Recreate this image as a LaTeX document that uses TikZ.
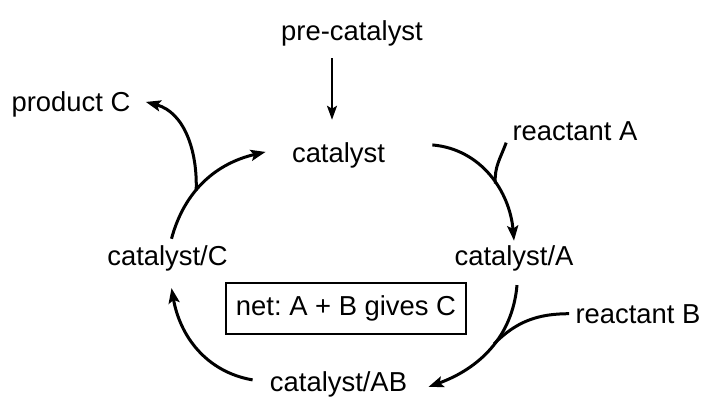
\documentclass[tikz,border=0pt]{standalone}
\usepackage{fontspec}
\setmainfont{Liberation Sans}
\usetikzlibrary{arrows.meta}

\begin{document}
\begin{tikzpicture}[
  x=0.5pt, y=0.5pt, font=\fontsize{13.7pt}{16pt}\selectfont\frenchspacing,
  lbl/.style={anchor=base, inner sep=3pt},
  netbox/.style={draw, line width=1.2pt, minimum width=120pt, minimum height=25.5pt, inner sep=0pt},
  ar/.style={-{Stealth[length=7.5pt, width=5.5pt, inset=1.5pt]}, line width=1.5pt},
  arthin/.style={-{Stealth[length=7pt, width=5pt, inset=1.5pt]}, line width=1pt},
]
\useasboundingbox (0,0) rectangle (704,398);

% ============================================================ species
\node[lbl] at (352,358)   (precat) {pre-catalyst};
\node[lbl] at (338.5,236) (cat)    {catalyst};
\node[lbl] at (71,287)    (prodC)  {product C};
\node[lbl] at (575,258)   (reacA)  {reactant A};
\node[lbl] at (167.5,133) (catC)   {catalyst/C};
\node[lbl] at (514,133)   (catA)   {catalyst/A};
\node[lbl] at (638,75)    (reacB)  {reactant B};
\node[lbl] at (338.5,7)   (catAB)  {catalyst/AB};

% ---- net reaction
\node[netbox] at (346,89.5) (net) {net: A + B gives C};

% ============================================================ arrows
\draw[arthin] ([xshift=-10pt,yshift=-3pt]precat.south) -- ([xshift=-3.25pt,yshift=8pt]cat.north);

% ---- cycle
\draw[ar] ([xshift=2pt]catC.north) to[out=75, in=193]
  coordinate[pos=0.4] (jC) ([xshift=-10pt,yshift=1.5pt]cat.west);
\draw[ar] ([xshift=20.5pt,yshift=5pt]cat.east) to[out=-5, in=95]
  coordinate[pos=0.57] (jA) ([yshift=-1pt]catA.north);
\draw[ar] ([xshift=1.5pt,yshift=-4pt]catA.south) to[out=265, in=20]
  coordinate[pos=0.45] (jB) ([xshift=7.5pt,yshift=-1.5pt]catAB.east);
\draw[ar] ([xshift=-5.5pt,yshift=2pt]catAB.west) to[out=170, in=280]
  ([xshift=2pt,yshift=-5.5pt]catC.south);

% ---- branches
\draw[ar] (jC) to[out=88, in=-15] ([xshift=4.5pt,yshift=1pt]prodC.east);
\draw[line width=1.5pt] ([yshift=2pt]reacA.south west) to[out=250, in=95] (jA);
\draw[line width=1.5pt] (reacB.west) to[out=180, in=45] (jB);

\end{tikzpicture}
\end{document}
